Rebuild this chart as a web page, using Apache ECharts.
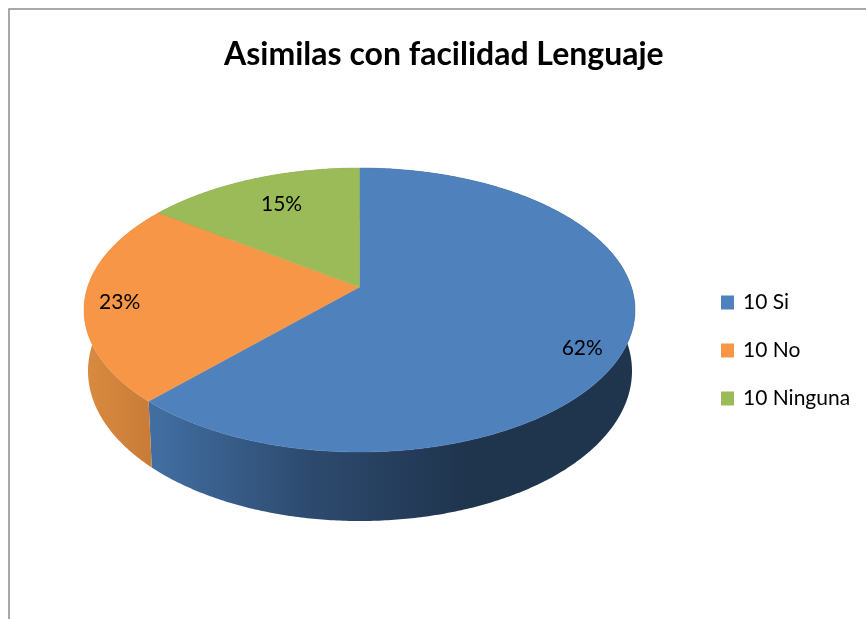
<!DOCTYPE html>
<html>
<head>
<meta charset="utf-8">
<title>Asimilas con facilidad Lenguaje</title>
<script src="https://cdn.jsdelivr.net/npm/echarts@6/dist/echarts.min.js"></script>
<style>
  html, body { margin: 0; padding: 0; background: #fff; }
  #chart { width: 866px; height: 619px; }
</style>
</head>
<body>
<div id="chart"></div>
<script>
// datos del grafico
var chartTitle = 'Asimilas con facilidad Lenguaje'
var categories = ['10 Si', '10 No', '10 Ninguna']
var values = [62, 23, 15]

// estilos
var fontName = 'Lato'
var topColors = ['#4f81bd', '#f79646', '#9bbb59']
var wallStops = [
  [[0, '#426fa3'], [0.5, '#2d4a6e'], [1, '#1f344d']],
  [[0, '#d88a40'], [1, '#c97c37']],
  [[0, '#6f8740'], [1, '#6f8740']]
]
var wallRange = [[150, 470], [88, 150], [160, 360]]
var labelShift = [[-46, 7], [35, 2], [30, 25]]

// geometria del disco (elipse superior e inferior)
var topEllipse = { cx: 359.5, cy: 310, rx: 275.5, ry: 142 }
var bottomEllipse = { cx: 360, cy: 371, rx: 272, ry: 150 }
// perspectiva: comprime los angulos hacia la parte trasera del disco
var persp = 0.85

var total = values.reduce(function (a, b) { return a + b }, 0)

function toScreenAngle (deg) {
  var half = deg * Math.PI / 360
  return 2 * Math.atan2(persp * Math.sin(half), Math.cos(half))
}

function rimPoint (e, ang) {
  return [e.cx + e.rx * Math.sin(ang), e.cy - e.ry * Math.cos(ang)]
}

function sliceAngles (index, value) {
  var before = 0
  for (var i = 0; i < index; i++) before += values[i]
  return {
    start: toScreenAngle(before / total * 360),
    end: toScreenAngle((before + value) / total * 360),
    mid: toScreenAngle((before + value / 2) / total * 360)
  }
}

function rimArc (e, a) {
  var pts = []
  var steps = Math.max(2, Math.ceil((a.end - a.start) * 90))
  for (var i = 0; i <= steps; i++) {
    pts.push(rimPoint(e, a.start + (a.end - a.start) * i / steps))
  }
  return pts
}

function renderTop (index) {
  return function (params, api) {
    var value = api.value(0)
    var a = sliceAngles(index, value)
    var c = (1 - persp * persp) / (1 + persp * persp)
    var apex = [topEllipse.cx, topEllipse.cy - c * topEllipse.ry]
    var rim = rimPoint(topEllipse, a.mid)
    return {
      type: 'group',
      children: [
        {
          type: 'polygon',
          shape: { points: [apex].concat(rimArc(topEllipse, a)) },
          style: { fill: topColors[index], stroke: topColors[index], lineWidth: 0.5 }
        },
        {
          type: 'text',
          z2: 10,
          style: {
            x: rim[0] + labelShift[index][0],
            y: rim[1] + labelShift[index][1],
            text: value + '%',
            fill: '#000',
            font: '21px ' + fontName,
            align: 'center',
            verticalAlign: 'middle'
          }
        }
      ]
    }
  }
}

function renderWall (index) {
  return function (params, api) {
    var a = sliceAngles(index, api.value(0))
    var stops = wallStops[index].map(function (s) {
      return { offset: s[0], color: s[1] }
    })
    return {
      type: 'polygon',
      shape: { points: rimArc(topEllipse, a).concat(rimArc(bottomEllipse, a).reverse()) },
      style: {
        fill: {
          type: 'linear',
          x: wallRange[index][0],
          y: 0,
          x2: wallRange[index][1],
          y2: 0,
          global: true,
          colorStops: stops
        }
      }
    }
  }
}

var series = []
categories.forEach(function (name, i) {
  series.push({
    type: 'custom',
    name: name + ' lado',
    coordinateSystem: 'none',
    z: 1,
    silent: true,
    renderItem: renderWall(i),
    data: [[values[i]]]
  })
})
categories.forEach(function (name, i) {
  series.push({
    type: 'custom',
    name: name,
    coordinateSystem: 'none',
    z: 2,
    silent: true,
    itemStyle: { color: topColors[i] },
    renderItem: renderTop(i),
    data: [[values[i]]]
  })
})

var chart = echarts.init(document.getElementById('chart'))
chart.setOption({
  animation: false,
  backgroundColor: '#fff',
  title: {
    text: chartTitle,
    left: 224,
    top: 39,
    padding: 0,
    textStyle: { color: '#000', fontFamily: fontName, fontWeight: 'bold', fontSize: 32 }
  },
  legend: {
    data: categories,
    orient: 'vertical',
    left: 721,
    top: 292,
    padding: 0,
    icon: 'rect',
    itemWidth: 13,
    itemHeight: 14,
    itemGap: 27,
    textStyle: { color: '#000', fontFamily: fontName, fontSize: 21, padding: [4, 0, 0, 4] }
  },
  graphic: [
    {
      type: 'rect',
      silent: true,
      shape: { x: 9, y: 9, width: 900, height: 700 },
      style: { fill: 'none', stroke: '#8c8c8c', lineWidth: 1.5 }
    }
  ],
  series: series
})
</script>
</body>
</html>
